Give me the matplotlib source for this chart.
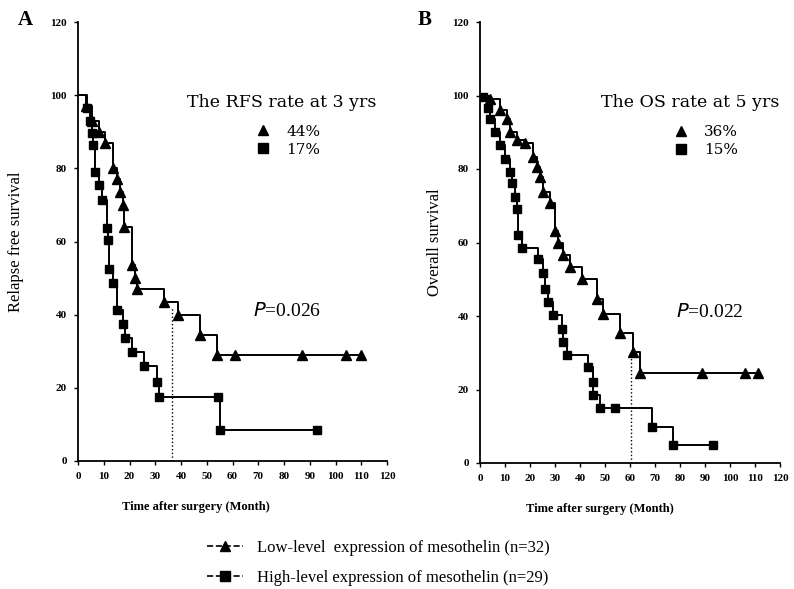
import matplotlib
matplotlib.use("Agg")
import matplotlib.pyplot as plt
from matplotlib.lines import Line2D

plt.rcParams['font.family'] = ['Liberation Serif', 'DejaVu Serif']

# Panel A: relapse free survival (month, %)
rfs_low_t = [0, 3, 5.5, 8, 10.5, 13.5, 15, 16.3, 17.3, 17.8, 21, 22, 23, 33.5, 39, 47.5, 54, 61, 87, 104, 110]
rfs_low_s = [100, 97, 93, 90, 87, 80, 77, 73.5, 70, 64, 53.5, 50, 47, 43.5, 40, 34.5, 29, 29, 29, 29, 29]
rfs_high_t = [0, 3.5, 4.5, 5.3, 6, 6.7, 8, 9.3, 11.2, 11.7, 12, 13.7, 15, 17.5, 18.3, 21, 25.5, 30.5, 31.3, 54.5, 55, 93]
rfs_high_s = [100, 96.5, 93, 89.6, 86.3, 79, 75.4, 71.3, 63.7, 60.4, 52.5, 48.6, 41.3, 37.4, 33.6, 29.8, 26, 21.7, 17.5, 17.5, 8.6, 8.6]

# Panel B: overall survival (month, %)
os_low_t = [0, 4, 8, 10.8, 12, 14.8, 18, 21.2, 22.8, 24, 25.2, 28, 30, 31, 33.3, 36, 40.8, 46.7, 49.3, 56, 61.3, 64, 88.6, 106, 111]
os_low_s = [100, 99, 96, 93.5, 90, 88, 87, 83.4, 80.6, 77.7, 73.8, 70.8, 63, 60, 56.5, 53.4, 50, 44.7, 40.5, 35.4, 30.2, 24.5, 24.5, 24.5, 24.5]
os_high_t = [0, 1.2, 3.2, 4, 6, 8, 10, 12, 12.8, 14, 14.8, 15.2, 16.8, 23.2, 25.3, 26, 27.3, 29.3, 32.7, 33.3, 34.7, 43.3, 45, 45.3, 48, 54, 68.7, 77, 93]
os_high_s = [100, 99.7, 96.7, 93.5, 90, 86.6, 82.6, 79.3, 76.3, 72.5, 69, 62, 58.6, 55.4, 51.8, 47.4, 43.9, 40.3, 36.5, 33, 29.4, 26, 22, 18.5, 15, 15, 9.8, 4.9, 4.9]

rfs_rates = ['44%', '17%']
os_rates = ['36%', '15%']
groups = ['Low-level  expression of mesothelin (n=32)',
          'High-level expression of mesothelin (n=29)']

fig = plt.figure(figsize=(7.94, 5.89), dpi=100)
axA = fig.add_axes([78 / 794, 1 - 461 / 589, 309 / 794, 439 / 589])
axB = fig.add_axes([480 / 794, 1 - 463 / 589, 300 / 794, 441 / 589])


def km(ax, t, s, marker, ms):
    ax.step(t, s, where='post', color='black', lw=1.4)
    ax.plot(t[1:], s[1:], ls='none', marker=marker, color='black', ms=ms)


def style(ax, ylabel, ylab_x, xlab_x):
    ax.set_xlim(0, 120)
    ax.set_ylim(0, 120)
    ax.set_xticks(range(0, 121, 10))
    ax.set_yticks(range(0, 121, 20))
    for side in ['top', 'right']:
        ax.spines[side].set_visible(False)
    for side in ['left', 'bottom']:
        ax.spines[side].set_linewidth(1.3)
    ax.tick_params(length=3, width=1, labelsize=8, pad=5)
    for lab in ax.get_xticklabels() + ax.get_yticklabels():
        lab.set_fontweight('bold')
    ax.set_ylabel(ylabel, fontsize=12)
    ax.yaxis.set_label_coords(ylab_x, 0.5)
    ax.set_xlabel('Time after surgery (Month)', fontsize=9, fontweight='bold')
    ax.xaxis.set_label_coords(xlab_x, -0.09)


def rate_legend(ax, rates, anchor):
    handles = [Line2D([], [], ls='none', marker='^', color='black', ms=7),
               Line2D([], [], ls='none', marker='s', color='black', ms=7)]
    ax.legend(handles, rates, loc='upper left', bbox_to_anchor=anchor,
              frameon=False, fontsize=11, handletextpad=0.5,
              labelspacing=0.25, borderaxespad=0,
              prop={'family': 'DejaVu Serif', 'size': 11})


# Panel A
km(axA, rfs_low_t, rfs_low_s, '^', 6.5)
km(axA, rfs_high_t, rfs_high_s, 's', 6)
axA.plot([36.5, 36.5], [0, 42], color='black', lw=1, ls=':')
style(axA, 'Relapse free survival', -0.175, 0.38)
axA.text(79, 98, 'The RFS rate at 3 yrs', ha='center', va='center',
         fontsize=12.5, family='DejaVu Serif')
rate_legend(axA, rfs_rates, (0.53, 0.78))
axA.text(81, 41, r'$P$=0.026', ha='center', va='center', fontsize=14)

# Panel B
km(axB, os_low_t, os_low_s, '^', 6.5)
km(axB, os_high_t, os_high_s, 's', 6)
axB.plot([60.5, 60.5], [0, 30], color='black', lw=1, ls=':')
style(axB, 'Overall survival', -0.125, 0.4)
axB.text(84, 98, 'The OS rate at 5 yrs', ha='center', va='center',
         fontsize=12.5, family='DejaVu Serif')
rate_legend(axB, os_rates, (0.6, 0.78))
axB.text(92, 41, r'$P$=0.022', ha='center', va='center', fontsize=14)

fig.text(18 / 794, 1 - 20 / 589, 'A', fontsize=15, fontweight='bold', va='center')
fig.text(418 / 794, 1 - 20 / 589, 'B', fontsize=15, fontweight='bold', va='center')

# bottom legend
leg_handles = [Line2D([], [], color='black', lw=1.2, ls='--', marker='^', ms=7),
               Line2D([], [], color='black', lw=1.2, ls='--', marker='s', ms=7)]
fig.legend(leg_handles, groups, loc='upper left',
           bbox_to_anchor=(200 / 794, 1 - 533 / 589), frameon=False,
           fontsize=12, handlelength=2.2, labelspacing=0.85, borderaxespad=0)

fig.savefig('out.png', dpi=100)
